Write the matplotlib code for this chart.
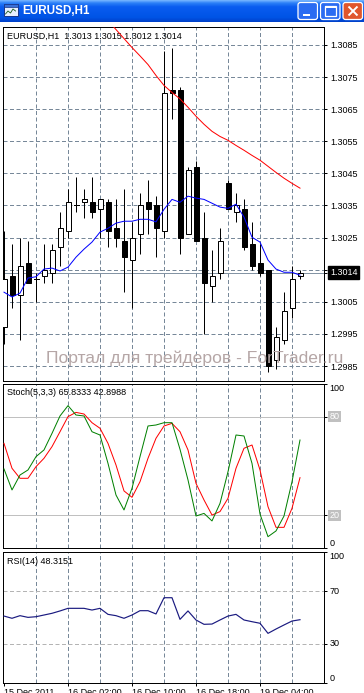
import matplotlib
matplotlib.use('Agg')
import matplotlib.pyplot as plt
import matplotlib.transforms as mtrans
from matplotlib.patches import Rectangle, FancyBboxPatch
from matplotlib.colors import to_rgb
import numpy as np

plt.rcParams['font.family'] = ['Liberation Sans', 'DejaVu Sans']

# ---------------- data ----------------
symbol = 'EURUSD,H1'
opens = [1.2997, 1.3013, 1.3007, 1.3017, 1.3012, 1.3013, 1.3014, 1.3022, 1.3027, 1.3035,
         1.3036, 1.3036, 1.3034, 1.3036, 1.3028, 1.3024, 1.3018, 1.3026, 1.3036, 1.3035,
         1.3027, 1.3071, 1.3071, 1.3026, 1.3047, 1.3025, 1.3010, 1.3014, 1.3042, 1.3033,
         1.3034, 1.3023, 1.3017, 1.3015, 1.2987, 1.2993, 1.3003, 1.3013]
highs = [1.3027, 1.3023, 1.3025, 1.3024, 1.3014, 1.3023, 1.3023, 1.3033, 1.3040, 1.3044,
         1.3040, 1.3044, 1.3037, 1.3037, 1.3037, 1.3040, 1.3030, 1.3039, 1.3043, 1.3038,
         1.3083, 1.3084, 1.3072, 1.3047, 1.3049, 1.3033, 1.3021, 1.3028, 1.3043, 1.3039,
         1.3037, 1.3030, 1.3023, 1.3015, 1.2997, 1.3008, 1.3016, 1.3015]
lows = [1.2992, 1.3003, 1.2993, 1.3011, 1.3005, 1.3011, 1.3011, 1.3016, 1.3025, 1.3033,
        1.3031, 1.3031, 1.3025, 1.3022, 1.3022, 1.3008, 1.3003, 1.3020, 1.3026, 1.3019,
        1.3025, 1.3062, 1.3020, 1.3026, 1.3024, 1.2995, 1.3005, 1.3012, 1.3034, 1.3030,
        1.3021, 1.3015, 1.3013, 1.2983, 1.2984, 1.2992, 1.3000, 1.3012]
closes = [1.3012, 1.3007, 1.3016, 1.3011, 1.3012, 1.3015, 1.3021, 1.3028, 1.3036, 1.3035,
          1.3037, 1.3033, 1.3037, 1.3027, 1.3025, 1.3019, 1.3025, 1.3035, 1.3034, 1.3028,
          1.3070, 1.3070, 1.3025, 1.3046, 1.3024, 1.3011, 1.3013, 1.3024, 1.3034, 1.3035,
          1.3022, 1.3016, 1.3014, 1.2985, 1.2994, 1.3002, 1.3012, 1.3014]
ma_fast = [1.30080, 1.30065, 1.30077, 1.30124, 1.30128, 1.30152, 1.30155, 1.30146, 1.30158, 1.30189,
           1.30214, 1.30236, 1.30267, 1.30279, 1.30295, 1.30301, 1.30301, 1.30307, 1.30307, 1.30299,
           1.30338, 1.30369, 1.30360, 1.30379, 1.30373, 1.30369, 1.30357, 1.30345, 1.30341, 1.30354,
           1.30314, 1.30251, 1.30236, 1.30180, 1.30152, 1.30142, 1.30142, 1.30133]
ma_slow = [np.nan] * 12 + [1.30954, 1.30926, 1.30898, 1.30870, 1.30842, 1.30816, 1.30789, 1.30755,
                           1.30724, 1.30702, 1.30682, 1.30656, 1.30628, 1.30603, 1.30581, 1.30565,
                           1.30553, 1.30537, 1.30522, 1.30506, 1.30491, 1.30472, 1.30453, 1.30435,
                           1.30419, 1.30404]
stoch_main = [48.2, 35.4, 44.5, 47.6, 55.7, 59.8, 69.9, 80.5, 86.8, 81.1,
              80.5, 70.9, 68.9, 51.6, 32.3, 23.2, 36.4, 55.7, 74.4, 75.0,
              76.4, 76.4, 60.2, 41.5, 19.5, 21.1, 16.5, 27.2, 46.5, 68.9,
              68.3, 51.6, 20.7, 6.9, 10.4, 19.5, 40.4, 65.8333]
stoch_signal = [63.8, 48.6, 42.5, 42.5, 49.6, 54.7, 61.8, 70.9, 80.1, 82.7,
                81.7, 76.4, 73.0, 63.8, 50.6, 34.8, 30.9, 40.4, 54.7, 66.9,
                74.4, 76.0, 70.9, 59.8, 39.4, 29.3, 20.1, 22.2, 30.3, 48.6,
                60.8, 62.8, 47.6, 25.2, 12.6, 12.6, 24.2, 42.8988]
rsi = [51.1, 49.4, 51.4, 50.1, 50.6, 51.9, 53.2, 55.0, 57.0, 57.0,
       57.0, 55.7, 57.0, 52.4, 51.4, 49.4, 51.9, 55.2, 55.2, 52.7,
       65.1, 65.1, 48.6, 55.0, 48.1, 44.8, 45.0, 48.1, 51.1, 52.4,
       48.1, 46.8, 45.6, 37.9, 41.2, 44.3, 47.3, 48.3151]
price_ticks = [1.2985, 1.2995, 1.3005, 1.3015, 1.3025, 1.3035, 1.3045, 1.3055, 1.3065, 1.3075, 1.3085]
bid = 1.3014
stoch_levels = [20, 80]
stoch_ticks = [0, 20, 80, 100]
rsi_levels = [30, 70]
rsi_ticks = [0, 30, 70, 100]
time_labels = ['15 Dec 2011', '16 Dec 02:00', '16 Dec 10:00', '16 Dec 18:00', '19 Dec 04:00']
time_label_idx = [0, 8, 16, 24, 32]
grid_idx = [4, 8, 12, 16, 20, 24, 28, 32, 36]
watermark = 'Портал для трейдеров - ForTrader.ru'

# ---------------- layout ----------------
W, H = 364, 693
fig = plt.figure(figsize=(W / 100, H / 100), dpi=100)
fig.patch.set_facecolor('white')


def rect(l, t, r, b):
    return [l / W, 1 - b / H, (r - l) / W, (b - t) / H]


PX = 0.72
FS = 6.5
GRID = dict(color='#778899', lw=PX, ls=(0, (4, 2.5)), zorder=0.5)
XLIM = (-0.125, 40)

ax = fig.add_axes(rect(3, 26.5, 324, 381))
axs = fig.add_axes(rect(3, 384, 324, 548))
axr = fig.add_axes(rect(3, 552, 324, 683))

for a in (ax, axs, axr):
    a.set_xlim(*XLIM)
    a.set_facecolor('white')
    for s in a.spines.values():
        s.set_color('black')
        s.set_linewidth(PX)
    for g in grid_idx:
        a.axvline(g, **GRID)
    a.yaxis.tick_right()
    a.tick_params(axis='y', length=2.3, width=PX, pad=2, labelsize=FS, colors='black')
    a.tick_params(axis='x', length=0)
    a.set_xticks([])

# ---- main price panel ----
ax.set_ylim(1.298033, 1.309075)
for p in price_ticks:
    ax.axhline(p, **GRID)
ax.axhline(bid, color='#8494a4', lw=PX, zorder=0.6)

x = np.arange(len(opens))
bw = 0.625
for i in x:
    o, h, l, c = opens[i], highs[i], lows[i], closes[i]
    ax.plot([i, i], [l, h], color='black', lw=PX, zorder=2, solid_capstyle='butt')
    if o == c:
        ax.plot([i - bw / 2, i + bw / 2], [o, o], color='black', lw=PX, zorder=3)
    else:
        fc = 'white' if c > o else 'black'
        ax.add_patch(Rectangle((i - bw / 2, min(o, c)), bw, abs(c - o), facecolor=fc,
                               edgecolor='black', lw=PX, zorder=3))

ax.plot(x, ma_fast, color='#0000ff', lw=PX, zorder=4)
ax.plot(x, ma_slow, color='#ff0000', lw=PX, zorder=4)

ax.set_yticks(price_ticks + [bid])
# the bid box hides the price label right next to it
ax.set_yticklabels([('' if abs(p - bid) < 0.0003 else f'{p:.4f}') for p in price_ticks] + [''])
ax.annotate(f'{bid:.4f}', xy=(1, bid), xycoords=mtrans.blended_transform_factory(ax.transAxes, ax.transData),
            xytext=(4.2, 0), textcoords='offset points', ha='left', va='center', color='white',
            fontsize=FS, bbox=dict(boxstyle='square,pad=0.22', fc='black', ec='black'), annotation_clip=False)
ax.annotate(f'{symbol}  {opens[-1]:.4f} {highs[-1]:.4f} {lows[-1]:.4f} {closes[-1]:.4f}',
            xy=(0, 1), xycoords='axes fraction', xytext=(2.9, -6.8), textcoords='offset points',
            ha='left', va='center', fontsize=FS, color='black')

# ---- stochastic panel ----
axs.set_ylim(0, 100)
for lv in stoch_levels:
    axs.axhline(lv, color='#c0c0c0', lw=PX, zorder=0.6)
axs.plot(x, stoch_signal, color='#ff0000', lw=PX, zorder=3)
axs.plot(x, stoch_main, color='#008000', lw=PX, zorder=4)
axs.set_yticks(stoch_ticks)
axs.set_yticklabels([])
bt = mtrans.blended_transform_factory(axs.transAxes, axs.transData)
for v in stoch_ticks:
    va = 'top' if v == 100 else ('bottom' if v == 0 else 'center')
    kw = {}
    col = 'black'
    if v in stoch_levels:
        kw = dict(bbox=dict(boxstyle='square,pad=0.12', fc='#c0c0c0', ec='none'))
        col = 'white'
    axs.annotate(str(v), xy=(1, v), xycoords=bt, xytext=(4.0, 0), textcoords='offset points',
                 ha='left', va=va, fontsize=FS, color=col, annotation_clip=False, **kw)
axs.annotate(f'Stoch(5,3,3) {stoch_main[-1]:.4f} {stoch_signal[-1]:.4f}', xy=(0, 1),
             xycoords='axes fraction', xytext=(2.9, -6.0), textcoords='offset points',
             ha='left', va='center', fontsize=FS, color='black')

# ---- RSI panel ----
axr.set_ylim(0, 100)
for lv in rsi_levels:
    axr.axhline(lv, color='#b4b4b4', lw=PX, ls=(0, (4, 2.5)), zorder=0.6)
axr.plot(x, rsi, color='#1a1a80', lw=0.85, zorder=3)
axr.set_yticks(rsi_ticks)
axr.set_yticklabels([])
bt = mtrans.blended_transform_factory(axr.transAxes, axr.transData)
for v in rsi_ticks:
    va = 'top' if v == 100 else ('bottom' if v == 0 else 'center')
    axr.annotate(str(v), xy=(1, v), xycoords=bt, xytext=(4.0, 0), textcoords='offset points',
                 ha='left', va=va, fontsize=FS, color='black', annotation_clip=False)
axr.annotate(f'RSI(14) {rsi[-1]:.4f}', xy=(0, 1), xycoords='axes fraction', xytext=(2.9, -7.2),
             textcoords='offset points', ha='left', va='center', fontsize=FS, color='black')
axr.set_xticks(time_label_idx)
axr.set_xticklabels(time_labels, ha='left')
axr.tick_params(axis='x', length=2.5, width=PX, pad=1.2, labelsize=FS, colors='black', direction='out')

# ---------------- window chrome overlay ----------------
ov = fig.add_axes([0, 0, 1, 1], zorder=10)
ov.patch.set_alpha(0)
ov.axis('off')

stops = [(0.0, '#6fb0ff'), (0.12, '#2c80f8'), (0.3, '#0a5cf0'), (0.8, '#0054e6'), (1.0, '#0042cc')]
pos = np.array([s[0] for s in stops])
cols = np.array([to_rgb(s[1]) for s in stops])
tt = np.linspace(0, 1, 22)
grad = np.stack([np.interp(tt, pos, cols[:, k]) for k in range(3)], axis=-1)[:, None, :]
ov.imshow(grad, extent=(0, W, 22, 0), aspect='auto', interpolation='bilinear', zorder=1)

# icon
ov.add_patch(Rectangle((3.5, 4), 14, 12, fc='#e8f0ff', ec='#17358a', lw=0.7, zorder=2))
ov.add_patch(Rectangle((3.5, 4), 14, 3, fc='#3a70d8', ec='#17358a', lw=0.5, zorder=3))
ov.plot([5.5, 8, 10.5, 13, 15.5], [14, 11, 13, 9, 11], color='#1a5a1a', lw=0.6, zorder=3)

ov.text(22, 11.5, symbol, color='white', fontsize=8.4, fontweight='bold', va='center', ha='left', zorder=3)

# buttons
for bx, fc in ((298, '#2a6cf2'), (320.5, '#2a6cf2'), (343, '#e0562c')):
    ov.add_patch(FancyBboxPatch((bx, 2.5), 19.5, 17, boxstyle='round,pad=0,rounding_size=2.5',
                                fc=fc, ec='white', lw=0.9, zorder=3))
ov.add_patch(Rectangle((303, 14), 6.5, 2.2, fc='white', ec='none', zorder=4))
ov.add_patch(Rectangle((325, 6), 10.5, 9.5, fc='none', ec='white', lw=0.9, zorder=4))
ov.add_patch(Rectangle((325, 6), 10.5, 2, fc='white', ec='none', zorder=4))
ov.plot([348.5, 357.5], [6.5, 15.5], color='white', lw=1.4, zorder=4, solid_capstyle='butt')
ov.plot([348.5, 357.5], [15.5, 6.5], color='white', lw=1.4, zorder=4, solid_capstyle='butt')

# watermark
ov.text(46, 358, watermark, color='#b5a6a6', fontsize=12.6, family=['Liberation Sans', 'DejaVu Sans'],
        va='center', ha='left', zorder=5)

ov.set_xlim(0, W)
ov.set_ylim(H, 0)

fig.savefig('out.png', dpi=100)
